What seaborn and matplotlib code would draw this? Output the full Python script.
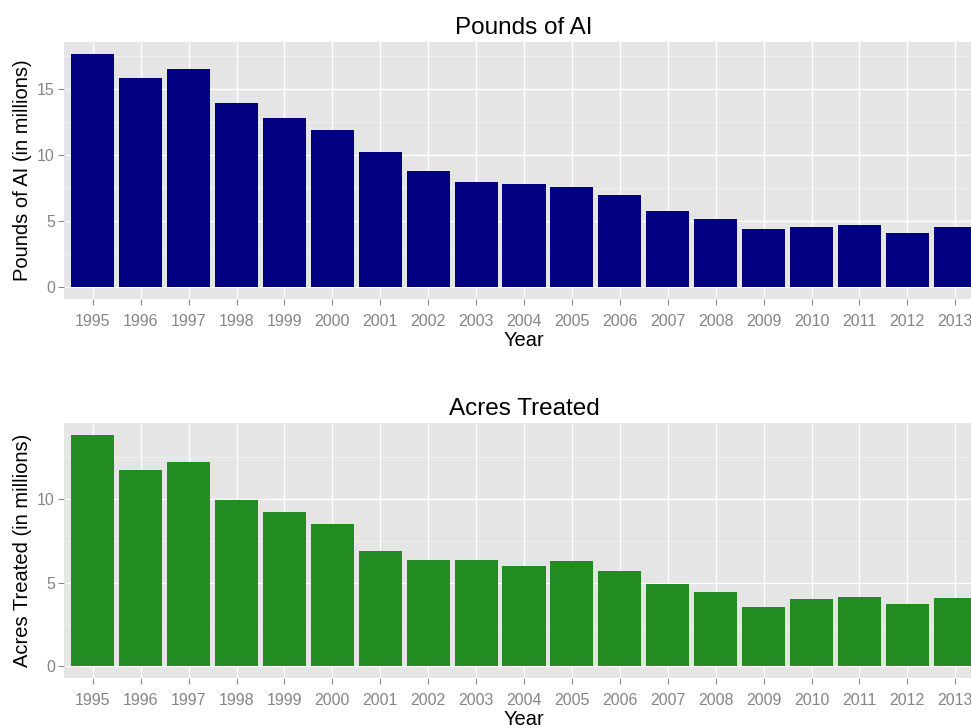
import matplotlib
matplotlib.use("Agg")
import matplotlib.pyplot as plt
import seaborn as sns
import pandas as pd
import numpy as np

years = [str(y) for y in range(1995, 2014)]
pounds_ai = [17.64, 15.83, 16.5, 13.9, 12.8, 11.9, 10.17, 8.78, 7.92, 7.82,
             7.52, 6.94, 5.76, 5.13, 4.35, 4.55, 4.65, 4.05, 4.55]
acres_treated = [13.85, 11.76, 12.19, 9.96, 9.23, 8.53, 6.92, 6.36, 6.36, 6.02,
                 6.32, 5.72, 4.94, 4.46, 3.57, 4.03, 4.15, 3.73, 4.09]

sns.set_theme(style="darkgrid")
plt.rcParams['font.family'] = ['Liberation Sans', 'DejaVu Sans']

W, H = 971, 728
fig = plt.figure(figsize=(W / 100, H / 100), dpi=100)

def panel(rect_px, values, color, title, ylabel, yticks, minor):
    l, t, r, b = rect_px
    ax = fig.add_axes([l / W, 1 - b / H, (r - l) / W, (b - t) / H])
    df = pd.DataFrame({"Year": years, "v": values})
    sns.barplot(data=df, x="Year", y="v", color=color, saturation=1,
                width=0.9, ax=ax, linewidth=0, zorder=3)
    m = max(values)
    ax.set_ylim(-0.05 * m, 1.05 * m)
    ax.set_xlim(-0.6, len(years) - 0.4)
    ax.set_facecolor("#E5E5E5")
    ax.set_yticks(yticks)
    ax.set_yticks(minor, minor=True)
    ax.grid(True, which="major", color="white", linewidth=1.0, zorder=0)
    ax.grid(True, which="minor", axis="y", color="#F2F2F2", linewidth=0.6, zorder=0)
    for s in ax.spines.values():
        s.set_visible(False)
    ax.tick_params(axis="both", which="major", length=4.5, width=0.8,
                   color="#8A8A8A", labelcolor="#858585", labelsize=11.5,
                   pad=2, bottom=True, left=True)
    ax.tick_params(axis="x", which="major", pad=6.5)
    ax.tick_params(axis="both", which="minor", length=0)
    ax.set_title(title, fontsize=17.5, pad=6, color="black")
    ax.set_xlabel("Year", fontsize=14.5, labelpad=1.5, color="black")
    ax.set_ylabel(ylabel, fontsize=14.5, labelpad=4, color="black")
    return ax

panel((64, 42, 984, 298.6), pounds_ai, "#000080", "Pounds of AI",
      "Pounds of AI (in millions)", [0, 5, 10, 15], [2.5, 7.5, 12.5, 17.5])
panel((64, 423, 984, 678), acres_treated, "#228B22", "Acres Treated",
      "Acres Treated (in millions)", [0, 5, 10], [2.5, 7.5, 12.5])

fig.savefig("out.png", dpi=100, facecolor="white")
